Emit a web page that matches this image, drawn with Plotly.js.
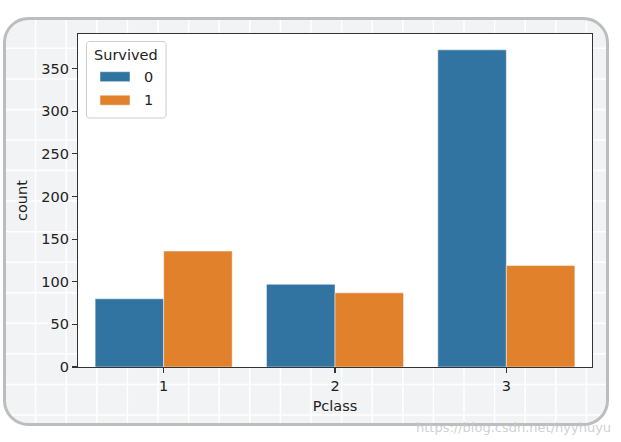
<!DOCTYPE html>
<html>
<head>
<meta charset="utf-8">
<script src="https://cdn.plot.ly/plotly-3.0.1.min.js"></script>
<style>html,body{margin:0;padding:0;background:#fff;}#chart{width:621px;height:442px;}</style>
</head>
<body>
<div id="chart"></div>
<script>
// ---- data ----
var pclass = [1, 2, 3];
var pclassLabels = ['1', '2', '3'];
var survived0 = [80, 97, 372];
var survived1 = [136, 87, 119];
var hueLabels = ['0', '1'];
var hueTitle = 'Survived';
var yTicks = [0, 50, 100, 150, 200, 250, 300, 350];

// ---- style ----
var C0 = '#3274a1', C1 = '#e1812c';
var FONT = 'DejaVu Sans';
var FS = 14.5;
var W = 621, H = 442;
var L = 78, R = 592, T = 34, B = 367;
function px(x) { return (x - L) / (R - L); }
function py(y) { return (B - y) / (B - T); }

var shapes = [];
// rounded frame path
function roundRectPath(x0, y0, x1, y1, r) {
  var k = 0.5523 * r;
  var p = [];
  function P(x, y) { return px(x) + ',' + py(y); }
  p.push('M' + P(x0 + r, y0));
  p.push('L' + P(x1 - r, y0));
  p.push('C' + P(x1 - r + k, y0) + ' ' + P(x1, y0 + r - k) + ' ' + P(x1, y0 + r));
  p.push('L' + P(x1, y1 - r));
  p.push('C' + P(x1, y1 - r + k) + ' ' + P(x1 - r + k, y1) + ' ' + P(x1 - r, y1));
  p.push('L' + P(x0 + r, y1));
  p.push('C' + P(x0 + r - k, y1) + ' ' + P(x0, y1 - r + k) + ' ' + P(x0, y1 - r));
  p.push('L' + P(x0, y0 + r));
  p.push('C' + P(x0, y0 + r - k) + ' ' + P(x0 + r - k, y0) + ' ' + P(x0 + r, y0));
  p.push('Z');
  return p.join(' ');
}
var FX0 = 4.5, FX1 = 607.5, FY0 = 18.5, FY1 = 424.5, FR = 24;
shapes.push({type: 'path', xref: 'paper', yref: 'paper', layer: 'below',
  path: roundRectPath(FX0, FY0, FX1, FY1, FR), fillcolor: '#f2f3f5', line: {width: 0}});
// background grid of the frame
for (var gx = 35.6; gx < FX1 - 5; gx += 30.6) {
  shapes.push({type: 'line', xref: 'paper', yref: 'paper', layer: 'below',
    x0: px(gx), x1: px(gx), y0: py(FY0 + 1), y1: py(FY1 - 1), line: {color: '#ffffff', width: 1.5}});
}
for (var gy = 48.35; gy < FY1 - 5; gy += 30.55) {
  var inset = 1;
  if (gy > FY1 - FR) { var d = gy - (FY1 - FR); inset = FR - Math.sqrt(FR * FR - d * d) + 1; }
  shapes.push({type: 'line', xref: 'paper', yref: 'paper', layer: 'below',
    x0: px(FX0 + inset), x1: px(FX1 - inset), y0: py(gy), y1: py(gy), line: {color: '#ffffff', width: 1.5}});
}
shapes.push({type: 'path', xref: 'paper', yref: 'paper', layer: 'below',
  path: roundRectPath(FX0, FY0, FX1, FY1, FR), line: {color: '#bdbdbd', width: 3}});
// white plot area
shapes.push({type: 'rect', xref: 'paper', yref: 'paper', layer: 'below',
  x0: 0, x1: 1, y0: 0, y1: 1, fillcolor: '#ffffff', line: {width: 0}});

// legend (matplotlib style)
var LX0 = 86.5, LX1 = 166, LY0 = 41.5, LY1 = 118;
shapes.push({type: 'path', xref: 'paper', yref: 'paper', layer: 'above',
  path: roundRectPath(LX0, LY0, LX1, LY1, 3), fillcolor: 'rgba(255,255,255,0.8)', line: {color: '#cccccc', width: 1}});
var annotations = [];
annotations.push({xref: 'paper', yref: 'paper', x: px(125.5), y: py(55), text: hueTitle, showarrow: false,
  xanchor: 'center', yanchor: 'middle', font: {family: FONT, size: FS, color: '#222'}});
var hueColors = [C0, C1];
var entryY = [76.7, 100.2];
for (var i = 0; i < hueLabels.length; i++) {
  shapes.push({type: 'rect', xref: 'paper', yref: 'paper', layer: 'above',
    x0: px(100), x1: px(130), y0: py(entryY[i] - 5), y1: py(entryY[i] + 5),
    fillcolor: hueColors[i], line: {color: 'rgba(255,255,255,0.6)', width: 0.8}});
  annotations.push({xref: 'paper', yref: 'paper', x: px(141.5), y: py(entryY[i]), text: hueLabels[i], showarrow: false,
    xanchor: 'left', yanchor: 'middle', font: {family: FONT, size: FS, color: '#222'}});
}
// watermark
annotations.push({xref: 'paper', yref: 'paper', x: px(613), y: py(427), text: 'https://blog.csdn.net/hyyhuyu',
  showarrow: false, xanchor: 'right', yanchor: 'middle', font: {family: FONT, size: 13, color: 'rgba(200,200,200,0.85)'}});

var traces = [
  {type: 'bar', x: pclass, y: survived0, name: hueLabels[0], marker: {color: C0, line: {color: 'rgba(255,255,255,0.6)', width: 0.8}}, hoverinfo: 'none'},
  {type: 'bar', x: pclass, y: survived1, name: hueLabels[1], marker: {color: C1, line: {color: 'rgba(255,255,255,0.6)', width: 0.8}}, hoverinfo: 'none'}
];

var axisCommon = {
  showline: true, mirror: true, linecolor: '#333333', linewidth: 1.2,
  ticks: 'outside', ticklen: 5, tickwidth: 1.2, tickcolor: '#333333',
  showgrid: false, zeroline: false,
  tickfont: {family: FONT, size: FS, color: '#222'}
};

var layout = {
  width: W, height: H,
  margin: {l: L, r: W - R, t: T, b: H - B, pad: 0},
  paper_bgcolor: '#ffffff', plot_bgcolor: 'rgba(0,0,0,0)',
  showlegend: false,
  barmode: 'group', bargap: 0.2, bargroupgap: 0,
  xaxis: Object.assign({}, axisCommon, {
    range: [0.5, 3.5], tickmode: 'array', tickvals: pclass, ticktext: pclassLabels,
    title: {text: 'Pclass', font: {family: FONT, size: FS, color: '#222'}, standoff: 8}
  }),
  yaxis: Object.assign({}, axisCommon, {
    range: [0, 372 * 1.05], tickmode: 'array', tickvals: yTicks, ticktext: yTicks.map(String),
    title: {text: 'count', font: {family: FONT, size: FS, color: '#222'}, standoff: 10}
  }),
  shapes: shapes,
  annotations: annotations
};

Plotly.newPlot('chart', traces, layout, {staticPlot: true, displayModeBar: false});
</script>
</body>
</html>
